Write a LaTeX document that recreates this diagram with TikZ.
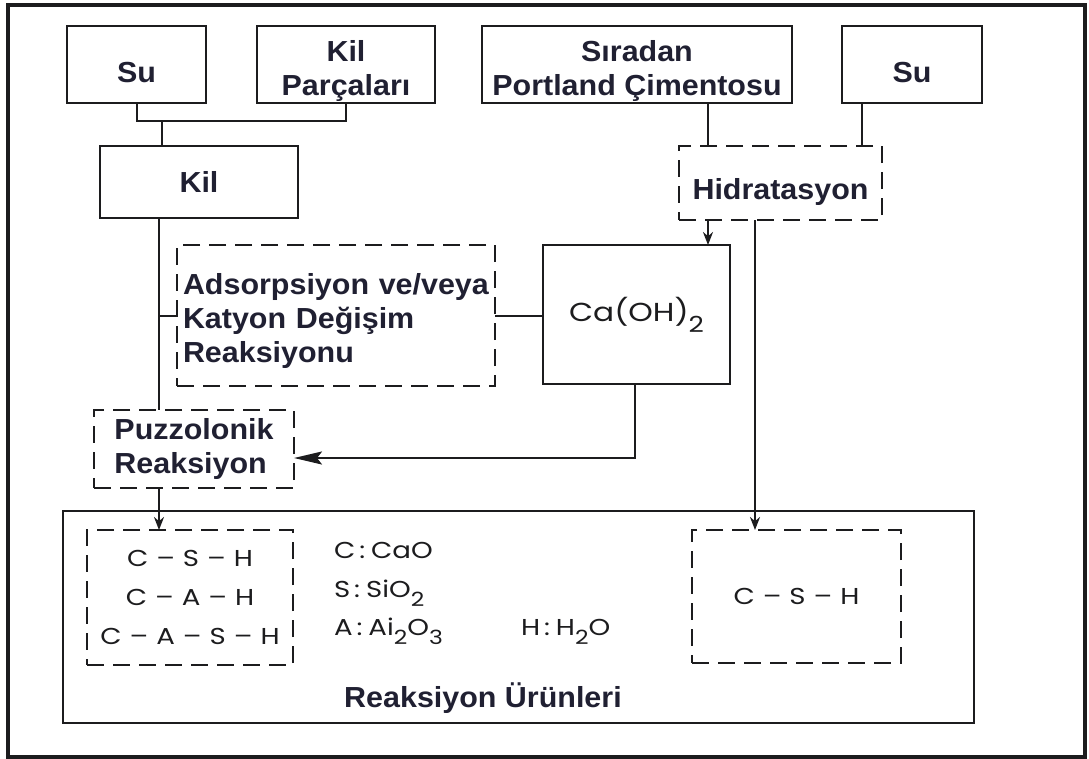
\documentclass[tikz,border=0pt]{standalone}
\usepackage{fontspec}
\setmainfont{Liberation Sans}[FakeStretch=1.05]
\newfontfamily\chemfont{Poppins}[FakeStretch=1.2]
\usetikzlibrary{arrows.meta}
\definecolor{ink}{RGB}{28,28,30}
\definecolor{labelink}{RGB}{32,32,50}
% lowered, smaller digit for chemical formulae
\newcommand\chsub[1]{\raisebox{-0.42em}{\scalebox{0.85}{#1}}}
% spaced bond dash between oxide letters
\newcommand\bond{\kern8pt–\kern8pt}
% colon of the oxide notation
\newcommand\is{\kern4pt:\kern6pt}
% invisible strut that lets a label sit a little lower in its box
\newcommand\drop[1]{\rule{0pt}{#1}}

\begin{document}
\begin{tikzpicture}[x=1pt,y=-1pt,
  every node/.style={inner sep=0pt, outer sep=0pt, text=labelink},
  solidbox/.style={draw=ink, line width=2.6pt},
  dashbox/.style={draw=ink, line width=2.6pt, dash pattern=on 17pt off 9pt},
  title/.style={font=\fontsize{29}{34}\selectfont\bfseries, align=center},
  chem/.style={font=\chemfont\fontsize{23}{39}\selectfont, text=ink},
  legend/.style={font=\chemfont\fontsize{23}{26}\selectfont, text=ink, anchor=base west},
  conn/.style={draw=ink, line width=2.3pt},
  tip/.style={-{Stealth[length=13pt,width=10pt]}},
  longtip/.style={-{Stealth[length=28pt,width=13pt,inset=5pt]}}]

  % page and outer frame
  \fill[white] (0,0) rectangle (1089,758);
  \useasboundingbox (0,0) rectangle (1089,758);
  \draw[ink, line width=3.5pt] (8,5) rectangle (1085,757);

  % raw materials
  \node[solidbox, title, minimum width=139pt, minimum height=77pt] (su1) at (136.5,64.5) {\drop{37pt}Su};
  \node[solidbox, title, minimum width=178pt, minimum height=77pt] (kp) at (346,64.5) {\drop{35pt}Kil\\Parçaları};
  \node[solidbox, title, minimum width=310pt, minimum height=77pt] (por) at (637,64.5) {\drop{35pt}Sıradan\\Portland Çimentosu};
  \node[solidbox, title, minimum width=140pt, minimum height=77pt] (su2) at (912,64.5) {\drop{37pt}Su};

  % intermediate steps
  \node[solidbox, title, minimum width=198pt, minimum height=72pt] (kil) at (199,182) {Kil};
  \node[dashbox, title, minimum width=203pt, minimum height=74pt] (hid) at (780.5,183) {\drop{40pt}Hidratasyon};
  \node[dashbox, title, align=left, text width=306pt, minimum width=318pt, minimum height=141pt] (ads) at (336,315.5)
    {\drop{32pt}Adsorpsiyon ve/veya\\Katyon Değişim\\Reaksiyonu};
  \node[solidbox, minimum width=187pt, minimum height=139pt,
        font=\chemfont\fontsize{26}{30}\selectfont, text=ink] (caoh) at (636.5,314.5) {Ca(OH)\chsub{2}};
  \node[dashbox, title, align=left, minimum width=200pt, minimum height=78pt] (puz) at (194,449) {Puzzolonik\\Reaksiyon};

  % reaction products
  \node[solidbox, minimum width=911pt, minimum height=212pt] (prod) at (518.5,617) {};
  \node[dashbox, chem, align=center, minimum width=206pt, minimum height=135pt] (csh1) at (190,597.5)
    {C\bond S\bond H\\C\bond A\bond H\\C\bond A\bond S\bond H};
  \node[dashbox, chem, minimum width=209pt, minimum height=133pt] (csh2) at (796.5,596.5) {C\bond S\bond H};

  % oxide notation
  \node[legend] (legC) at (334,558) {C\is CaO};
  \node[legend] (legS) at (334,597) {S\is SiO\chsub{2}};
  \node[legend] (legA) at (334,635) {A\is Ai\chsub{2}O\chsub{3}};
  \node[legend] (legH) at (521,635) {H\is H\chsub{2}O};
  \node[title, anchor=base] (prodtitle) at (483,707) {Reaksiyon Ürünleri};

  % connector columns and rows
  \coordinate (colSu) at (137,0);
  \coordinate (colKP) at (346,0);
  \coordinate (colJ) at (162,0);
  \coordinate (colA) at (159,0);
  \coordinate (colP) at (708,0);
  \coordinate (colS2) at (862,0);
  \coordinate (colH) at (755,0);
  \coordinate (colC) at (635,0);
  \coordinate (rowBar) at (0,121);
  \coordinate (rowT) at (0,316);
  \coordinate (rowR) at (0,458);

  % clay branch
  \draw[conn] (su1.south -| colSu) |- (rowBar -| colKP) -- (kp.south -| colKP);
  \draw[conn] (rowBar -| colJ) -- (kil.north -| colJ);
  \draw[conn] (kil.south -| colA) -- (puz.north -| colA);
  \draw[conn] (rowT -| colA) -- (ads.west |- rowT);
  \draw[conn] (ads.east |- rowT) -- (caoh.west |- rowT);
  \draw[conn, tip] (puz.south -| colA) -- (csh1.north -| colA);

  % cement branch
  \draw[conn] (por.south -| colP) -- (hid.north -| colP);
  \draw[conn] (su2.south -| colS2) -- (hid.north -| colS2);
  \draw[conn, tip] (hid.south -| colP) -- (caoh.north -| colP);
  \draw[conn, tip] (hid.south -| colH) -- (csh2.north -| colH);
  \draw[conn, longtip] (caoh.south -| colC) |- (puz.east |- rowR);
\end{tikzpicture}
\end{document}
